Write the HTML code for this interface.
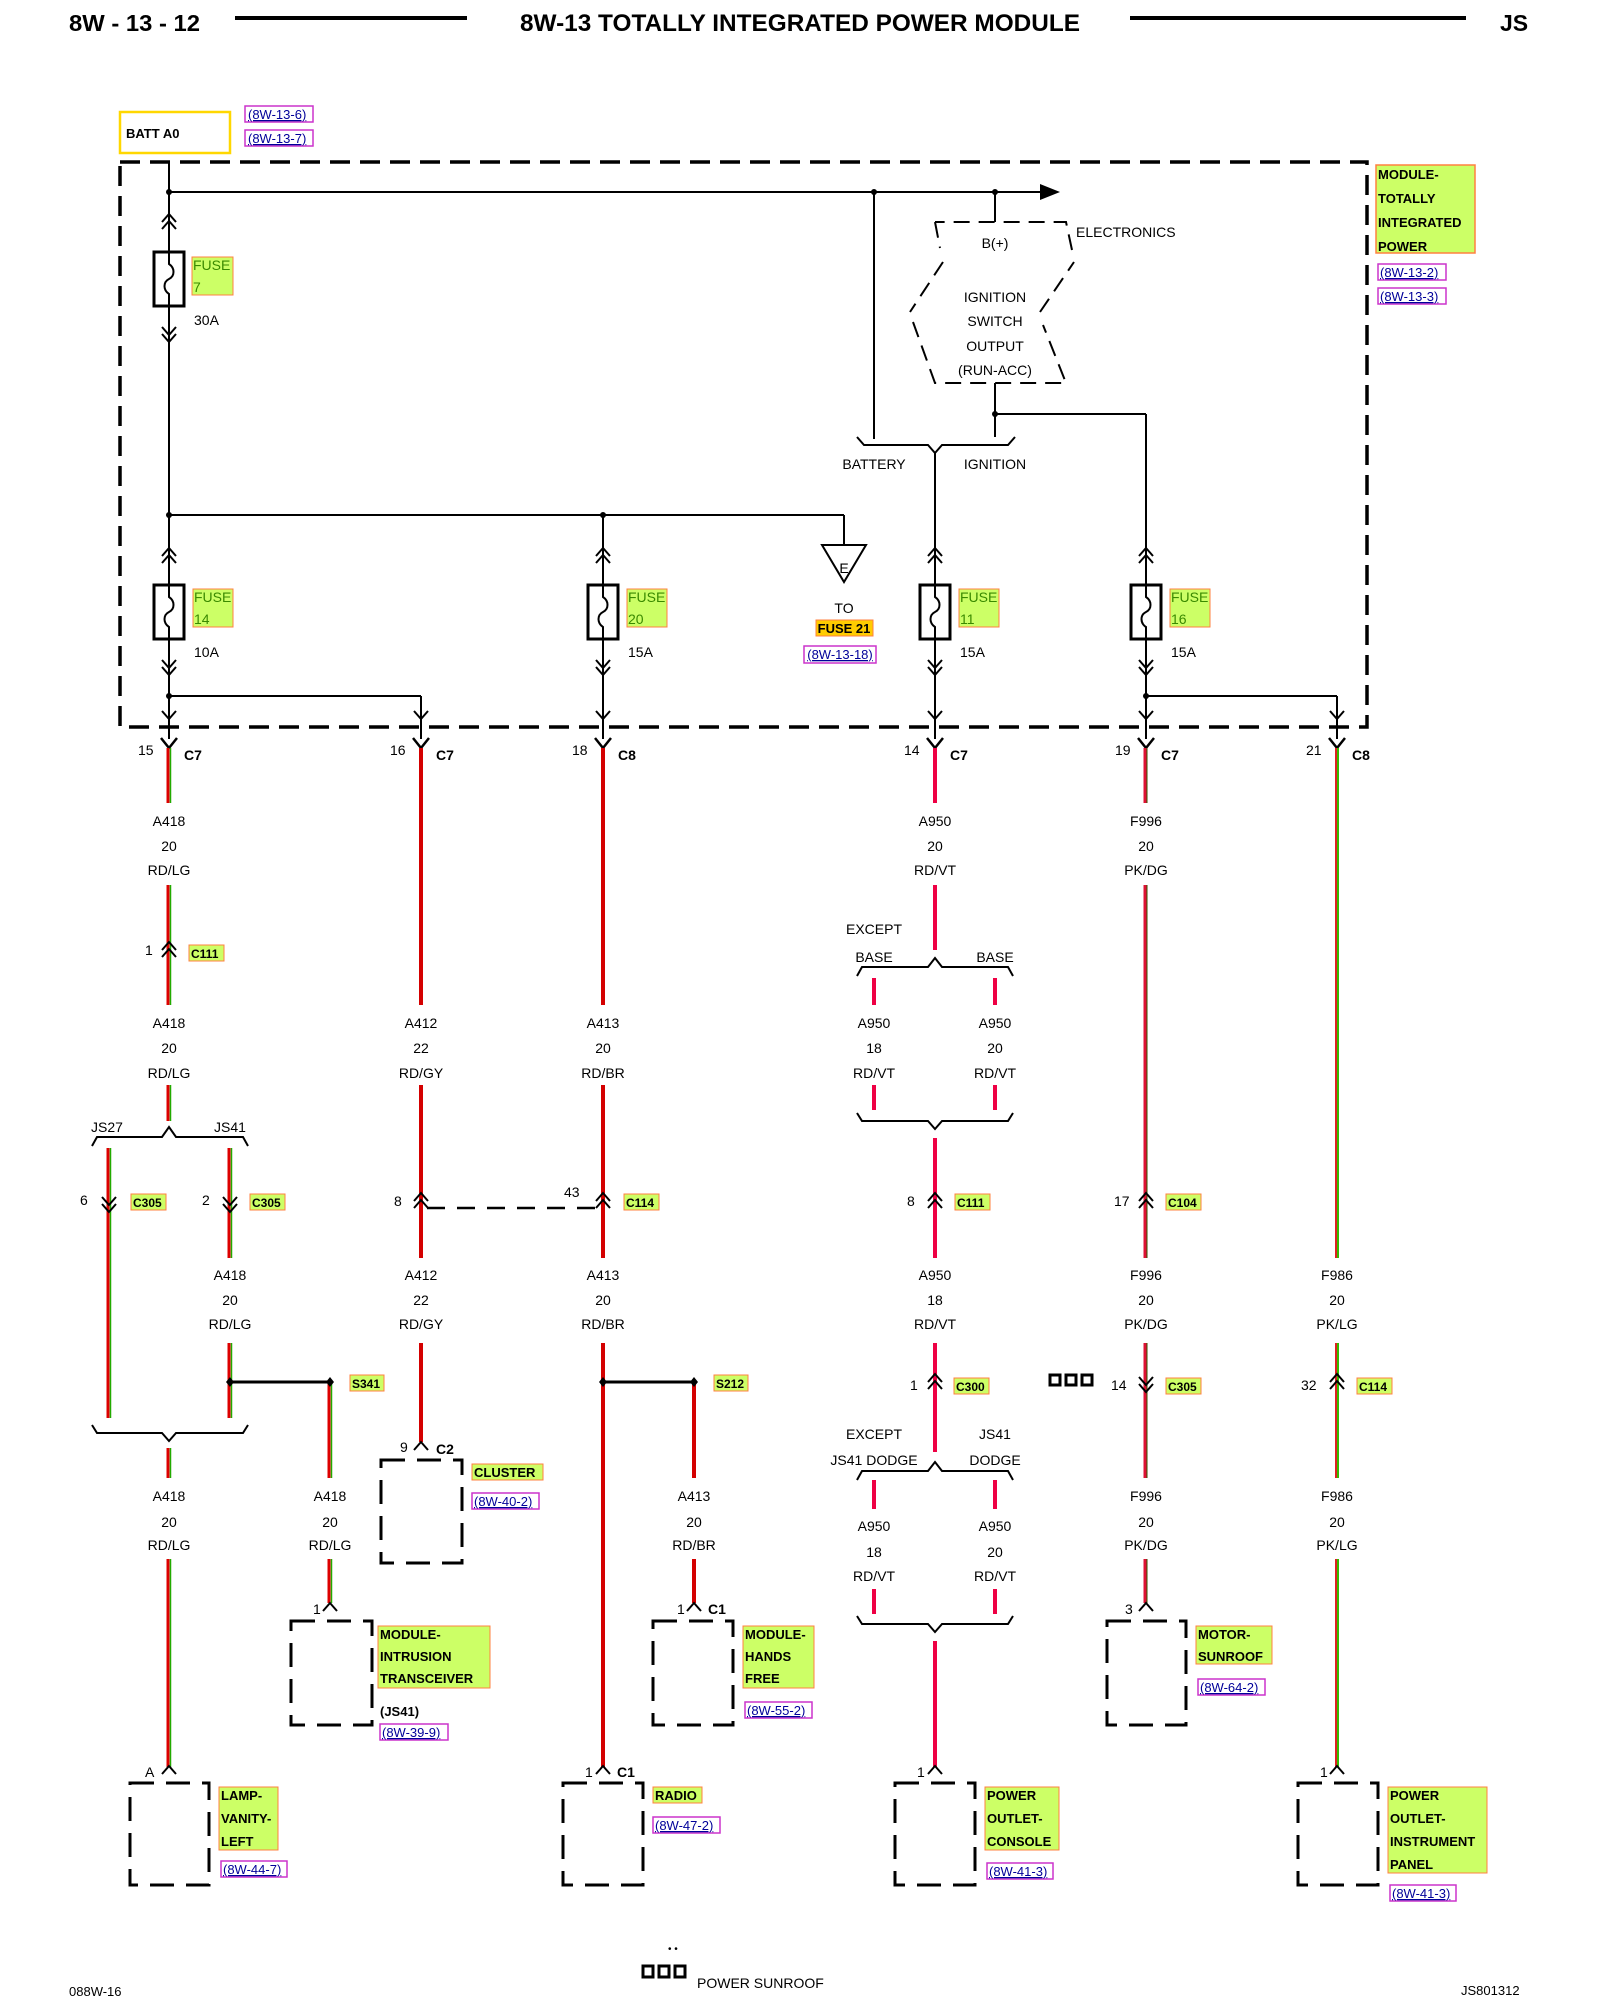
<!DOCTYPE html>
<html><head><meta charset="utf-8"><style>
html,body{margin:0;padding:0;background:#fff}
svg{display:block}
text{font-family:"Liberation Sans",sans-serif;font-size:14px;fill:#000}
.b{font-weight:bold}
.m{text-anchor:middle}
.ref{fill:#000099;font-size:13px;text-decoration:underline}
.fl{fill:#3a8a00;font-size:14px}
</style></head><body>
<svg width="1600" height="2000" viewBox="0 0 1600 2000" xmlns="http://www.w3.org/2000/svg">
<defs>
<g id="fuse"><rect x="-15" y="0" width="30" height="54" fill="#fff" stroke="#000" stroke-width="3"/><path d="M0 0 L0 12 C6 16 6 24 0 27 C-6 30 -6 38 0 42 L0 54" fill="none" stroke="#000" stroke-width="2"/></g>
<g id="dup"><polyline points="-7,8 0,0 7,8" fill="none" stroke="#000" stroke-width="2"/><polyline points="-7,15 0,7 7,15" fill="none" stroke="#000" stroke-width="2"/></g>
<g id="ddn"><polyline points="-7,-8 0,0 7,-8" fill="none" stroke="#000" stroke-width="2"/><polyline points="-7,-15 0,-7 7,-15" fill="none" stroke="#000" stroke-width="2"/></g>
<g id="yc"><polyline points="-8,0 0,10 8,0" fill="none" stroke="#000" stroke-width="2.5"/></g>
<g id="up"><polyline points="-7,8 0,0 7,8" fill="none" stroke="#000" stroke-width="2"/></g>
</defs>

<!-- header -->
<text x="69" y="31" class="b" style="font-size:23px" textLength="131" lengthAdjust="spacingAndGlyphs">8W - 13 - 12</text>
<rect x="235" y="16" width="232" height="4" fill="#000"/>
<text x="520" y="31" class="b" style="font-size:24px" textLength="560" lengthAdjust="spacingAndGlyphs">8W-13 TOTALLY INTEGRATED POWER MODULE</text>
<rect x="1130" y="16" width="336" height="4" fill="#000"/>
<text x="1500" y="31" class="b" style="font-size:23px">JS</text>

<!-- BATT A0 -->
<rect x="120" y="112" width="110" height="41" fill="#fff" stroke="#ffd700" stroke-width="2.5"/>
<text x="126" y="138" class="b" style="font-size:13px">BATT A0</text>
<rect x="245" y="106" width="68" height="16" fill="none" stroke="#cc33cc" stroke-width="1.5"/><text x="248" y="119" class="ref">(8W-13-6)</text>
<rect x="245" y="130" width="68" height="16" fill="none" stroke="#cc33cc" stroke-width="1.5"/><text x="248" y="143" class="ref">(8W-13-7)</text>

<!-- module dashed box -->
<rect x="120" y="162" width="1247" height="565" fill="none" stroke="#000" stroke-width="3.5" stroke-dasharray="20 10"/>
<rect x="1376" y="165" width="99" height="88" fill="#ccff66" stroke="#ff8040" stroke-width="1.5"/>
<text x="1378" y="179" class="b" style="font-size:13px">MODULE-</text>
<text x="1378" y="203" class="b" style="font-size:13px">TOTALLY</text>
<text x="1378" y="227" class="b" style="font-size:13px">INTEGRATED</text>
<text x="1378" y="251" class="b" style="font-size:13px">POWER</text>
<rect x="1378" y="264" width="68" height="16" fill="none" stroke="#cc33cc" stroke-width="1.5"/><text x="1380" y="277" class="ref">(8W-13-2)</text>
<rect x="1378" y="288" width="68" height="16" fill="none" stroke="#cc33cc" stroke-width="1.5"/><text x="1380" y="301" class="ref">(8W-13-3)</text>

<g stroke="#000" stroke-width="2" fill="none">
<line x1="169" y1="162" x2="169" y2="739"/>
<line x1="169" y1="192" x2="1042" y2="192"/>
<line x1="995" y1="192" x2="995" y2="222"/>
<line x1="874" y1="192" x2="874" y2="439"/>
<line x1="995" y1="383" x2="995" y2="437"/>
<line x1="995" y1="414" x2="1146" y2="414"/>
<line x1="1146" y1="414" x2="1146" y2="739"/>
<line x1="935" y1="453" x2="935" y2="739"/>
<line x1="169" y1="515" x2="844" y2="515"/>
<line x1="844" y1="515" x2="844" y2="545"/>
<line x1="603" y1="515" x2="603" y2="739"/>
<line x1="169" y1="696" x2="421" y2="696"/>
<line x1="421" y1="696" x2="421" y2="739"/>
<line x1="1146" y1="696" x2="1337" y2="696"/>
<line x1="1337" y1="696" x2="1337" y2="739"/>
<path d="M857 437 L864 445 L928 445 L935 453 L942 445 L1008 445 L1015 437"/>
<path d="M935 222 L940 248 M943 262 L910 312 M913 322 L935 383 L1066 383 L1043 325 M1040 312 L1074 262 M1072 250 L1066 222 L935 222" stroke-dasharray="16 9"/>
<polygon points="822,545 866,545 844,582"/>
</g>
<polygon points="1040,184 1060,192 1040,200" fill="#000"/>
<g fill="#000"><circle cx="169" cy="192" r="3"/><circle cx="874" cy="192" r="3"/><circle cx="995" cy="192" r="3"/><circle cx="995" cy="414" r="3"/><circle cx="169" cy="515" r="3"/><circle cx="603" cy="515" r="3"/><circle cx="169" cy="696" r="3"/><circle cx="1146" cy="696" r="3"/></g>
<text x="995" y="248" class="m">B(+)</text>
<text x="1076" y="237">ELECTRONICS</text>
<text x="995" y="302" class="m">IGNITION</text>
<text x="995" y="326" class="m">SWITCH</text>
<text x="995" y="351" class="m">OUTPUT</text>
<text x="995" y="375" class="m">(RUN-ACC)</text>
<text x="874" y="469" class="m">BATTERY</text>
<text x="995" y="469" class="m">IGNITION</text>
<text x="844" y="573" class="m">E</text>
<text x="844" y="613" class="m">TO</text>
<rect x="816" y="620" width="57" height="16" fill="#ffcc00" stroke="#ff8040"/><text x="844" y="633" class="b m" style="font-size:13px">FUSE 21</text>
<rect x="804" y="646" width="72" height="17" fill="none" stroke="#cc33cc" stroke-width="1.5"/><text x="840" y="659" class="ref m">(8W-13-18)</text>

<!-- fuses -->
<use href="#fuse" x="169" y="252"/><use href="#dup" x="169" y="214"/><use href="#ddn" x="169" y="342"/>
<rect x="192" y="257" width="41" height="38" fill="#ccff66" stroke="#ff8040"/><text x="193" y="270" class="fl">FUSE</text><text x="193" y="292" class="fl">7</text>
<text x="194" y="325">30A</text>
<g>
<use href="#fuse" x="169" y="585"/><use href="#dup" x="169" y="548"/><use href="#ddn" x="169" y="675"/>
<rect x="193" y="589" width="40" height="38" fill="#ccff66" stroke="#ff8040"/><text x="194" y="602" class="fl">FUSE</text><text x="194" y="624" class="fl">14</text><text x="194" y="657">10A</text>
<use href="#fuse" x="603" y="585"/><use href="#dup" x="603" y="548"/><use href="#ddn" x="603" y="675"/>
<rect x="627" y="589" width="40" height="38" fill="#ccff66" stroke="#ff8040"/><text x="628" y="602" class="fl">FUSE</text><text x="628" y="624" class="fl">20</text><text x="628" y="657">15A</text>
<use href="#fuse" x="935" y="585"/><use href="#dup" x="935" y="548"/><use href="#ddn" x="935" y="675"/>
<rect x="959" y="589" width="40" height="38" fill="#ccff66" stroke="#ff8040"/><text x="960" y="602" class="fl">FUSE</text><text x="960" y="624" class="fl">11</text><text x="960" y="657">15A</text>
<use href="#fuse" x="1146" y="585"/><use href="#dup" x="1146" y="548"/><use href="#ddn" x="1146" y="675"/>
<rect x="1170" y="589" width="40" height="38" fill="#ccff66" stroke="#ff8040"/><text x="1171" y="602" class="fl">FUSE</text><text x="1171" y="624" class="fl">16</text><text x="1171" y="657">15A</text>
</g>
<!-- down arrows at box bottom -->
<use href="#up" x="169" y="727" transform="rotate(180 169 723)"/>
<use href="#up" x="421" y="727" transform="rotate(180 421 723)"/>
<use href="#up" x="603" y="727" transform="rotate(180 603 723)"/>
<use href="#up" x="935" y="727" transform="rotate(180 935 723)"/>
<use href="#up" x="1146" y="727" transform="rotate(180 1146 723)"/>
<use href="#up" x="1337" y="727" transform="rotate(180 1337 723)"/>

<!-- top connectors -->
<g>
<use href="#yc" x="169" y="738"/><text x="138" y="755">15</text><text x="184" y="760" class="b">C7</text>
<use href="#yc" x="421" y="738"/><text x="390" y="755">16</text><text x="436" y="760" class="b">C7</text>
<use href="#yc" x="603" y="738"/><text x="572" y="755">18</text><text x="618" y="760" class="b">C8</text>
<use href="#yc" x="935" y="738"/><text x="904" y="755">14</text><text x="950" y="760" class="b">C7</text>
<use href="#yc" x="1146" y="738"/><text x="1115" y="755">19</text><text x="1161" y="760" class="b">C7</text>
<use href="#yc" x="1337" y="738"/><text x="1306" y="755">21</text><text x="1352" y="760" class="b">C8</text>
</g>

<!-- WIRES -->
<g stroke-width="3" fill="none">
<g stroke="#dd0000">
<path d="M168 748 V803 M168 885 V1005 M168 1085 V1121 M108 1148 V1418 M229 1148 V1258 M229 1343 V1418 M168 1448 V1478 M168 1559 V1767 M329 1382 V1478 M329 1559 V1603"/>
</g>
<g stroke="#22aa00" stroke-width="1.5">
<path d="M170.5 748 V803 M170.5 885 V1005 M170.5 1085 V1121 M110.5 1148 V1418 M231.5 1148 V1258 M231.5 1343 V1418 M170.5 1448 V1478 M170.5 1559 V1767 M331.5 1382 V1478 M331.5 1559 V1603"/>
</g>
<g stroke="#d40000" stroke-width="4">
<path d="M421 748 V1005 M421 1085 V1258 M421 1343 V1442 M603 748 V1005 M603 1085 V1258 M603 1343 V1767 M694 1382 V1478 M694 1559 V1603"/>
</g>
<g stroke="#ee0044" stroke-width="4">
<path d="M935 748 V803 M935 885 V950 M874 978 V1005 M995 978 V1005 M874 1085 V1110 M995 1085 V1110 M935 1138 V1258 M935 1343 V1452 M874 1480 V1509 M995 1480 V1509 M874 1589 V1614 M995 1589 V1614 M935 1641 V1767"/>
</g>
<g stroke="#dd1133" stroke-width="3"><path d="M1145 748 V803 M1145 885 V1258 M1145 1343 V1478 M1145 1559 V1603"/></g>
<g stroke="#335500" stroke-width="1"><path d="M1147 748 V803 M1147 885 V1258 M1147 1343 V1478 M1147 1559 V1603"/></g>
<g stroke="#dd2222" stroke-width="2"><path d="M1336 748 V1258 M1336 1343 V1478 M1336 1559 V1767"/></g>
<g stroke="#33bb00" stroke-width="2"><path d="M1338 748 V1258 M1338 1343 V1478 M1338 1559 V1767"/></g>
</g>

<!-- braces -->
<g stroke="#000" stroke-width="2" fill="none">
<path d="M92 1146 L97 1137 L162 1137 L169 1127 L176 1137 L243 1137 L248 1146"/>
<path d="M92 1425 L97 1433 L162 1433 L169 1441 L176 1433 L243 1433 L248 1425"/>
<path d="M857 976 L862 967 L928 967 L935 958 L942 967 L1008 967 L1013 976"/>
<path d="M857 1113 L862 1121 L928 1121 L935 1129 L942 1121 L1008 1121 L1013 1113"/>
<path d="M857 1480 L862 1471 L928 1471 L935 1462 L942 1471 L1008 1471 L1013 1480"/>
<path d="M857 1616 L862 1624 L928 1624 L935 1632 L942 1624 L1008 1624 L1013 1616"/>
<line x1="427" y1="1208" x2="600" y2="1208" stroke-dasharray="18 12" stroke-width="2.5"/>
<line x1="230" y1="1382" x2="330" y2="1382" stroke-width="3"/>
<line x1="603" y1="1382" x2="694" y2="1382" stroke-width="3"/>
</g>
<g fill="#000">
<polygon points="230,1377 234,1382 230,1387 226,1382"/><polygon points="330,1377 334,1382 330,1387 326,1382"/>
<polygon points="603,1377 607,1382 603,1387 599,1382"/><polygon points="694,1377 698,1382 694,1387 690,1382"/>
</g>

<!-- wire labels -->
<g class="m">
<text x="169" y="826">A418</text><text x="169" y="851">20</text><text x="169" y="875">RD/LG</text>
<text x="935" y="826">A950</text><text x="935" y="851">20</text><text x="935" y="875">RD/VT</text>
<text x="1146" y="826">F996</text><text x="1146" y="851">20</text><text x="1146" y="875">PK/DG</text>
<text x="169" y="1028">A418</text><text x="169" y="1053">20</text><text x="169" y="1078">RD/LG</text>
<text x="421" y="1028">A412</text><text x="421" y="1053">22</text><text x="421" y="1078">RD/GY</text>
<text x="603" y="1028">A413</text><text x="603" y="1053">20</text><text x="603" y="1078">RD/BR</text>
<text x="874" y="1028">A950</text><text x="874" y="1053">18</text><text x="874" y="1078">RD/VT</text>
<text x="995" y="1028">A950</text><text x="995" y="1053">20</text><text x="995" y="1078">RD/VT</text>
<text x="874" y="934">EXCEPT</text><text x="874" y="962">BASE</text><text x="995" y="962">BASE</text>
<text x="107" y="1132">JS27</text><text x="230" y="1132">JS41</text>
<text x="230" y="1280">A418</text><text x="230" y="1305">20</text><text x="230" y="1329">RD/LG</text>
<text x="421" y="1280">A412</text><text x="421" y="1305">22</text><text x="421" y="1329">RD/GY</text>
<text x="603" y="1280">A413</text><text x="603" y="1305">20</text><text x="603" y="1329">RD/BR</text>
<text x="935" y="1280">A950</text><text x="935" y="1305">18</text><text x="935" y="1329">RD/VT</text>
<text x="1146" y="1280">F996</text><text x="1146" y="1305">20</text><text x="1146" y="1329">PK/DG</text>
<text x="1337" y="1280">F986</text><text x="1337" y="1305">20</text><text x="1337" y="1329">PK/LG</text>
<text x="874" y="1439">EXCEPT</text><text x="874" y="1465">JS41 DODGE</text><text x="995" y="1439">JS41</text><text x="995" y="1465">DODGE</text>
<text x="169" y="1501">A418</text><text x="169" y="1527">20</text><text x="169" y="1550">RD/LG</text>
<text x="330" y="1501">A418</text><text x="330" y="1527">20</text><text x="330" y="1550">RD/LG</text>
<text x="694" y="1501">A413</text><text x="694" y="1527">20</text><text x="694" y="1550">RD/BR</text>
<text x="1146" y="1501">F996</text><text x="1146" y="1527">20</text><text x="1146" y="1550">PK/DG</text>
<text x="1337" y="1501">F986</text><text x="1337" y="1527">20</text><text x="1337" y="1550">PK/LG</text>
<text x="874" y="1531">A950</text><text x="874" y="1557">18</text><text x="874" y="1581">RD/VT</text>
<text x="995" y="1531">A950</text><text x="995" y="1557">20</text><text x="995" y="1581">RD/VT</text>
</g>

<!-- inline connectors -->
<g>
<use href="#dup" x="169" y="942"/><text x="145" y="955">1</text>
<rect x="189" y="945" width="35" height="16" fill="#ccff66" stroke="#ff8040"/><text x="191" y="958" class="b" style="font-size:12px">C111</text>
<use href="#ddn" x="109" y="1212"/><text x="80" y="1205">6</text>
<rect x="131" y="1194" width="35" height="16" fill="#ccff66" stroke="#ff8040"/><text x="133" y="1207" class="b" style="font-size:12px">C305</text>
<use href="#ddn" x="230" y="1212"/><text x="202" y="1205">2</text>
<rect x="250" y="1194" width="35" height="16" fill="#ccff66" stroke="#ff8040"/><text x="252" y="1207" class="b" style="font-size:12px">C305</text>
<use href="#dup" x="421" y="1193"/><text x="394" y="1206">8</text>
<use href="#dup" x="603" y="1193"/><text x="564" y="1197">43</text>
<rect x="624" y="1194" width="35" height="16" fill="#ccff66" stroke="#ff8040"/><text x="626" y="1207" class="b" style="font-size:12px">C114</text>
<use href="#dup" x="935" y="1193"/><text x="907" y="1206">8</text>
<rect x="955" y="1194" width="35" height="16" fill="#ccff66" stroke="#ff8040"/><text x="957" y="1207" class="b" style="font-size:12px">C111</text>
<use href="#dup" x="1146" y="1193"/><text x="1114" y="1206">17</text>
<rect x="1166" y="1194" width="35" height="16" fill="#ccff66" stroke="#ff8040"/><text x="1168" y="1207" class="b" style="font-size:12px">C104</text>
<rect x="350" y="1375" width="34" height="16" fill="#ccff66" stroke="#ff8040"/><text x="352" y="1388" class="b" style="font-size:12px">S341</text>
<rect x="714" y="1375" width="34" height="16" fill="#ccff66" stroke="#ff8040"/><text x="716" y="1388" class="b" style="font-size:12px">S212</text>
<use href="#dup" x="935" y="1374"/><text x="910" y="1390">1</text>
<rect x="954" y="1378" width="35" height="16" fill="#ccff66" stroke="#ff8040"/><text x="956" y="1391" class="b" style="font-size:12px">C300</text>
<g fill="none" stroke="#000" stroke-width="3"><rect x="1050" y="1375" width="10" height="10"/><rect x="1066" y="1375" width="10" height="10"/><rect x="1082" y="1375" width="10" height="10"/></g>
<use href="#ddn" x="1146" y="1392"/><text x="1111" y="1390">14</text>
<rect x="1166" y="1378" width="35" height="16" fill="#ccff66" stroke="#ff8040"/><text x="1168" y="1391" class="b" style="font-size:12px">C305</text>
<use href="#dup" x="1337" y="1374"/><text x="1301" y="1390">32</text>
<rect x="1357" y="1378" width="35" height="16" fill="#ccff66" stroke="#ff8040"/><text x="1359" y="1391" class="b" style="font-size:12px">C114</text>
</g>

<!-- components -->
<g fill="none" stroke="#000" stroke-width="3" stroke-dasharray="24 12">
<rect x="381" y="1460" width="81" height="103"/>
<rect x="291" y="1621" width="81" height="104"/>
<rect x="653" y="1621" width="80" height="104"/>
<rect x="1107" y="1621" width="79" height="104"/>
<rect x="130" y="1783" width="79" height="102"/>
<rect x="563" y="1783" width="80" height="102"/>
<rect x="895" y="1783" width="80" height="102"/>
<rect x="1298" y="1783" width="80" height="102"/>
</g>
<use href="#up" x="421" y="1442"/><text x="400" y="1452">9</text><text x="436" y="1454" class="b">C2</text>
<rect x="472" y="1464" width="71" height="16" fill="#ccff66" stroke="#ff8040"/><text x="474" y="1477" class="b" style="font-size:13px">CLUSTER</text>
<rect x="472" y="1493" width="67" height="16" fill="none" stroke="#cc33cc" stroke-width="1.5"/><text x="474" y="1506" class="ref">(8W-40-2)</text>

<use href="#up" x="330" y="1603"/><text x="313" y="1614">1</text>
<rect x="378" y="1626" width="112" height="62" fill="#ccff66" stroke="#ff8040"/>
<text x="380" y="1639" class="b" style="font-size:13px">MODULE-</text><text x="380" y="1661" class="b" style="font-size:13px">INTRUSION</text><text x="380" y="1683" class="b" style="font-size:13px">TRANSCEIVER</text>
<text x="380" y="1716" class="b" style="font-size:13px">(JS41)</text>
<rect x="380" y="1724" width="68" height="16" fill="none" stroke="#cc33cc" stroke-width="1.5"/><text x="382" y="1737" class="ref">(8W-39-9)</text>

<use href="#up" x="694" y="1603"/><text x="677" y="1614">1</text><text x="708" y="1614" class="b">C1</text>
<rect x="743" y="1626" width="71" height="62" fill="#ccff66" stroke="#ff8040"/>
<text x="745" y="1639" class="b" style="font-size:13px">MODULE-</text><text x="745" y="1661" class="b" style="font-size:13px">HANDS</text><text x="745" y="1683" class="b" style="font-size:13px">FREE</text>
<rect x="745" y="1702" width="67" height="16" fill="none" stroke="#cc33cc" stroke-width="1.5"/><text x="747" y="1715" class="ref">(8W-55-2)</text>

<use href="#up" x="1146" y="1603"/><text x="1125" y="1614">3</text>
<rect x="1196" y="1626" width="76" height="38" fill="#ccff66" stroke="#ff8040"/>
<text x="1198" y="1639" class="b" style="font-size:13px">MOTOR-</text><text x="1198" y="1661" class="b" style="font-size:13px">SUNROOF</text>
<rect x="1198" y="1679" width="67" height="16" fill="none" stroke="#cc33cc" stroke-width="1.5"/><text x="1200" y="1692" class="ref">(8W-64-2)</text>

<use href="#up" x="169" y="1766"/><text x="145" y="1777">A</text>
<rect x="219" y="1787" width="59" height="63" fill="#ccff66" stroke="#ff8040"/>
<text x="221" y="1800" class="b" style="font-size:13px">LAMP-</text><text x="221" y="1823" class="b" style="font-size:13px">VANITY-</text><text x="221" y="1846" class="b" style="font-size:13px">LEFT</text>
<rect x="221" y="1861" width="66" height="16" fill="none" stroke="#cc33cc" stroke-width="1.5"/><text x="223" y="1874" class="ref">(8W-44-7)</text>

<use href="#up" x="603" y="1766"/><text x="585" y="1777">1</text><text x="617" y="1777" class="b">C1</text>
<rect x="653" y="1787" width="49" height="16" fill="#ccff66" stroke="#ff8040"/><text x="655" y="1800" class="b" style="font-size:13px">RADIO</text>
<rect x="653" y="1817" width="67" height="16" fill="none" stroke="#cc33cc" stroke-width="1.5"/><text x="655" y="1830" class="ref">(8W-47-2)</text>

<use href="#up" x="935" y="1766"/><text x="917" y="1777">1</text>
<rect x="985" y="1787" width="74" height="63" fill="#ccff66" stroke="#ff8040"/>
<text x="987" y="1800" class="b" style="font-size:13px">POWER</text><text x="987" y="1823" class="b" style="font-size:13px">OUTLET-</text><text x="987" y="1846" class="b" style="font-size:13px">CONSOLE</text>
<rect x="987" y="1863" width="66" height="16" fill="none" stroke="#cc33cc" stroke-width="1.5"/><text x="989" y="1876" class="ref">(8W-41-3)</text>

<use href="#up" x="1337" y="1766"/><text x="1320" y="1777">1</text>
<rect x="1388" y="1787" width="99" height="86" fill="#ccff66" stroke="#ff8040"/>
<text x="1390" y="1800" class="b" style="font-size:13px">POWER</text><text x="1390" y="1823" class="b" style="font-size:13px">OUTLET-</text><text x="1390" y="1846" class="b" style="font-size:13px">INSTRUMENT</text><text x="1390" y="1869" class="b" style="font-size:13px">PANEL</text>
<rect x="1390" y="1885" width="66" height="16" fill="none" stroke="#cc33cc" stroke-width="1.5"/><text x="1392" y="1898" class="ref">(8W-41-3)</text>

<!-- footer -->
<text x="69" y="1996" style="font-size:13px">088W-16</text>
<text x="668" y="1952" style="font-size:10px">• •</text>
<g fill="none" stroke="#000" stroke-width="3"><rect x="643" y="1966" width="10" height="11"/><rect x="659" y="1966" width="10" height="11"/><rect x="675" y="1966" width="10" height="11"/></g>
<text x="697" y="1988" style="font-size:14px">POWER SUNROOF</text>
<text x="1461" y="1995" style="font-size:13px">JS801312</text>
</svg>
</body></html>
